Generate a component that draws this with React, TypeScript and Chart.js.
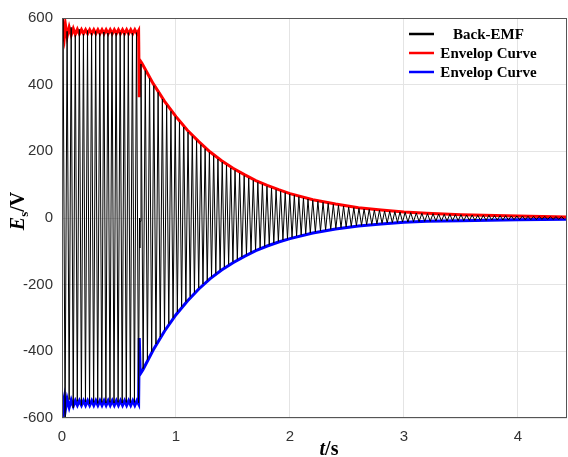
import { useEffect, useRef } from 'react';
import { Chart, registerables } from 'chart.js';

Chart.register(...registerables);

// Axis ticks
const xTicks = [0, 1, 2, 3, 4];
const yTicks = [-600, -400, -200, 0, 200, 400, 600];
const X_MAX = 4.43;

// Back-EMF: positive / negative peak of every electrical cycle, per segment
const segmentStarts = [0.009, 0.693, 1.518, 2.2, 3.01];
const segmentPeriods = [0.0358, 0.0375, 0.04, 0.045, 0.049];

const preDropPos = [598, 560, 572, 548, 566, 552, 562, 555, 560, 554, 558, 555, 557, 555, 557, 555, 556, 555, 556];
const preDropNeg = [-600, -545, -570, -550, -562, -552, -558, -553, -556, -553, -555, -553, -555, -553, -555, -553, -554, -553, -554];

const decayAPos = [462, 442, 419, 397, 377, 357, 338, 320, 304, 288, 273, 258, 245, 232, 220, 208, 197, 187, 177, 168, 159, 150];
const decayANeg = [-452, -425, -401, -378, -357, -336, -317, -299, -282, -266, -251, -236, -223, -210, -198, -187, -176, -166, -156, -147, -139, -131];

const decayBPos = [143, 135, 127, 120, 113, 107, 101, 95, 90, 85, 80, 76, 72, 68, 64, 60, 57];
const decayBNeg = [-124, -117, -109, -103, -96, -90, -85, -80, -75, -70, -66, -62, -58, -54, -51, -48, -45];

const decayCPos = [53, 50, 47, 44, 41, 38, 36, 33, 31, 29, 27, 26, 24, 23, 21, 20, 19, 18];
const decayCNeg = [-42, -39, -36, -34, -31, -29, -27, -25, -23, -22, -20, -19, -18, -16, -15, -14, -13, -12];

const decayDPos = [17, 16, 15, 14, 13, 13, 12, 11, 11, 10, 10, 9, 9, 8, 8, 8, 7, 7, 7, 6, 6, 6, 5, 5, 5, 5, 4, 4, 4];
const decayDNeg = [-12, -11, -11, -10, -10, -9, -9, -9, -8, -8, -8, -7, -7, -7, -7, -6, -6, -6, -6, -5, -5, -5, -5, -5, -4, -4, -4, -4, -4];

// Short transient of the trace at the switching instant
const switchGlitch: [number, number][] = [[0.68, 0], [0.682, -90], [0.685, -10]];

// Upper envelope (time, value)
const redEnvelope: [number, number][] = [
  [0.0, 535], [0.003, 603], [0.01, 560], [0.02, 540], [0.03, 580], [0.045, 545], [0.063, 572], [0.081, 549],
  [0.099, 568], [0.117, 551], [0.135, 566], [0.153, 552], [0.171, 565], [0.189, 553], [0.207, 565], [0.225, 553],
  [0.243, 565], [0.261, 553], [0.279, 565], [0.297, 553], [0.315, 565], [0.333, 553], [0.351, 565], [0.369, 553],
  [0.387, 565], [0.405, 553], [0.423, 565], [0.441, 553], [0.459, 565], [0.477, 553], [0.495, 565], [0.513, 553],
  [0.531, 565], [0.549, 553], [0.567, 565], [0.585, 553], [0.603, 565], [0.621, 553], [0.639, 565], [0.657, 553],
  [0.672, 562], [0.678, 362], [0.686, 472],
  [0.7, 465], [0.8, 403], [0.9, 350], [1.0, 304], [1.1, 263], [1.2, 229], [1.3, 198], [1.4, 172], [1.5, 149],
  [1.6, 130], [1.7, 112], [1.8, 98], [1.9, 85], [2.0, 73], [2.2, 55], [2.4, 42], [2.6, 31], [2.8, 24], [3.0, 18],
  [3.2, 14], [3.5, 10], [4.0, 6], [4.43, 3],
];

// Lower envelope (time, value)
const blueEnvelope: [number, number][] = [
  [0.0, -538], [0.003, -602], [0.01, -555], [0.02, -538], [0.03, -575], [0.045, -543], [0.063, -568], [0.081, -546],
  [0.099, -564], [0.117, -548], [0.135, -562], [0.153, -548], [0.171, -562], [0.189, -548], [0.207, -562], [0.225, -548],
  [0.243, -562], [0.261, -548], [0.279, -562], [0.297, -548], [0.315, -562], [0.333, -548], [0.351, -562], [0.369, -548],
  [0.387, -562], [0.405, -548], [0.423, -562], [0.441, -548], [0.459, -562], [0.477, -548], [0.495, -562], [0.513, -548],
  [0.531, -562], [0.549, -548], [0.567, -562], [0.585, -548], [0.603, -562], [0.621, -548], [0.639, -562], [0.657, -548],
  [0.672, -558], [0.678, -360], [0.686, -468],
  [0.71, -455], [0.8, -396], [0.9, -339], [1.0, -290], [1.1, -249], [1.2, -213], [1.3, -182], [1.4, -156], [1.5, -134],
  [1.6, -115], [1.7, -98], [1.8, -84], [1.9, -72], [2.0, -62], [2.2, -45], [2.4, -33], [2.6, -24], [2.8, -18], [3.0, -13],
  [3.2, -10], [3.5, -8], [4.0, -5], [4.43, -4],
];

const legendLabels = ['Back-EMF', 'Envelop Curve', 'Envelop Curve'];
const legendColors = ['#000000', '#ff0000', '#0000ff'];

type Pt = { x: number; y: number };

function buildTrace(): Pt[] {
  const segments: [number[], number[]][] = [
    [preDropPos, preDropNeg],
    [decayAPos, decayANeg],
    [decayBPos, decayBNeg],
    [decayCPos, decayCNeg],
    [decayDPos, decayDNeg],
  ];
  const out: Pt[] = [{ x: 0, y: 0 }];
  segments.forEach(([pos, neg], s) => {
    const start = segmentStarts[s];
    const period = segmentPeriods[s];
    pos.forEach((p, k) => {
      const t = start + k * period;
      out.push({ x: t, y: p });
      out.push({ x: t + period / 2, y: neg[k] });
    });
    if (s === 0) switchGlitch.forEach(([x, y]) => out.push({ x, y }));
  });
  return out;
}

const toPts = (arr: [number, number][]): Pt[] => arr.map(([x, y]) => ({ x, y }));

const SERIF = '"Liberation Serif", "Times New Roman", serif';
const SANS = '"Liberation Sans", Arial, sans-serif';

const framePlugin = {
  id: 'frameAndLabels',
  afterDatasetsDraw(chart: any) {
    const { ctx, chartArea } = chart;
    const { left, right, top, bottom } = chartArea;
    ctx.save();
    ctx.strokeStyle = '#555';
    ctx.lineWidth = 1;
    ctx.strokeRect(left + 0.5, top + 0.5, right - left - 1, bottom - top - 1);
    ctx.restore();
  },
  afterDraw(chart: any) {
    const { ctx } = chart;
    ctx.save();
    // Legend
    const rows = [34, 53, 72];
    legendLabels.forEach((label, i) => {
      ctx.strokeStyle = legendColors[i];
      ctx.lineWidth = 2.5;
      ctx.beginPath();
      ctx.moveTo(409, rows[i]);
      ctx.lineTo(434, rows[i]);
      ctx.stroke();
      ctx.fillStyle = '#000';
      ctx.font = `bold 15px ${SERIF}`;
      ctx.textAlign = 'center';
      ctx.textBaseline = 'middle';
      ctx.fillText(label, 488.5, rows[i] + 1);
    });

    // Y axis title: E_s/V
    ctx.save();
    ctx.translate(24, 211);
    ctx.rotate(-Math.PI / 2);
    ctx.textBaseline = 'alphabetic';
    ctx.textAlign = 'left';
    const fBig = `italic bold 20px ${SERIF}`;
    const fSub = `bold 13px ${SERIF}`;
    const fRest = `bold 20px ${SERIF}`;
    ctx.font = fBig;
    const wE = ctx.measureText('E').width;
    ctx.font = fSub;
    const wS = ctx.measureText('s').width;
    ctx.font = fRest;
    const wV = ctx.measureText('/V').width;
    let x0 = -(wE + wS + wV) / 2;
    ctx.fillStyle = '#000';
    ctx.font = fBig;
    ctx.fillText('E', x0, 0);
    x0 += wE;
    ctx.font = fSub;
    ctx.fillText('s', x0, 4);
    x0 += wS;
    ctx.font = fRest;
    ctx.fillText('/V', x0, 0);
    ctx.restore();

    // X axis title: t/s
    ctx.save();
    ctx.textBaseline = 'alphabetic';
    ctx.textAlign = 'left';
    ctx.fillStyle = '#000';
    ctx.font = `italic bold 20px ${SERIF}`;
    const wt = ctx.measureText('t').width;
    ctx.font = `bold 20px ${SERIF}`;
    const ws = ctx.measureText('/s').width;
    let xs = 329 - (wt + ws) / 2;
    ctx.font = `italic bold 20px ${SERIF}`;
    ctx.fillText('t', xs, 455);
    xs += wt;
    ctx.font = `bold 20px ${SERIF}`;
    ctx.fillText('/s', xs, 455);
    ctx.restore();

    ctx.restore();
  },
};

export default function App() {
  const ref = useRef<HTMLCanvasElement | null>(null);

  useEffect(() => {
    if (!ref.current) return;
    const chart = new Chart(ref.current, {
      type: 'line',
      data: {
        datasets: [
          {
            label: 'Back-EMF',
            data: buildTrace(),
            borderColor: '#000',
            borderWidth: 1,
            pointRadius: 0,
            tension: 0,
          },
          {
            label: 'Envelop Curve',
            data: toPts(redEnvelope),
            borderColor: '#ff0000',
            borderWidth: 3,
            pointRadius: 0,
            tension: 0,
          },
          {
            label: 'Envelop Curve',
            data: toPts(blueEnvelope),
            borderColor: '#0000ff',
            borderWidth: 3,
            pointRadius: 0,
            tension: 0,
          },
        ],
      },
      options: {
        responsive: false,
        animation: false,
        devicePixelRatio: 1,
        parsing: false as any,
        layout: { padding: { top: 18, right: 1, bottom: 0, left: 0 } },
        plugins: { legend: { display: false }, tooltip: { enabled: false } },
        scales: {
          x: {
            type: 'linear',
            min: 0,
            max: X_MAX,
            afterBuildTicks: (s: any) => {
              s.ticks = xTicks.map((v) => ({ value: v }));
            },
            afterFit: (s: any) => {
              s.height = 39;
            },
            grid: { color: '#e4e4e4', drawTicks: false },
            border: { display: false },
            ticks: {
              padding: 10,
              color: '#333',
              font: { family: SANS, size: 15 },
              callback: (v: any) => String(v),
            },
          },
          y: {
            type: 'linear',
            min: -600,
            max: 600,
            afterBuildTicks: (s: any) => {
              s.ticks = yTicks.map((v) => ({ value: v }));
            },
            afterFit: (s: any) => {
              s.width = 62;
            },
            grid: { color: '#e4e4e4', drawTicks: false },
            border: { display: false },
            ticks: {
              padding: 9,
              color: '#333',
              font: { family: SANS, size: 15 },
              callback: (v: any) => String(v),
            },
          },
        },
      },
      plugins: [framePlugin],
    });
    return () => chart.destroy();
  }, []);

  return (
    <div style={{ position: 'fixed', left: 0, top: 0, width: 568, height: 457, background: '#fff' }}>
      <canvas ref={ref} width={568} height={457} style={{ width: 568, height: 457, display: 'block' }} />
    </div>
  );
}
